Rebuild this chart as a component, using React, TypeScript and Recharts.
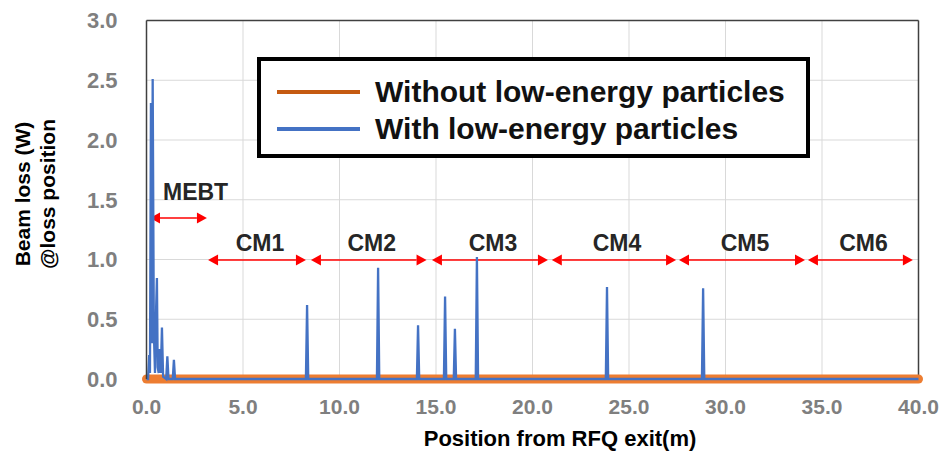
import { LineChart, Line, XAxis, YAxis, CartesianGrid, ReferenceLine } from "recharts";

const FONT = "'Liberation Sans', Arial, sans-serif";

// x ticks (m) and y ticks (W)
const xTicks = [0, 5, 10, 15, 20, 25, 30, 35, 40];
const yTicks = [0, 0.5, 1, 1.5, 2, 2.5, 3];

// without low-energy particles: flat at zero
const withoutPos = [0, 40];
const withoutLoss = [0, 0];

// with low-energy particles: spikes
const withPos = [
  0, 0.08, 0.14, 0.18, 0.23, 0.28, 0.32, 0.38, 0.44, 0.5, 0.54, 0.58, 0.63, 0.68, 0.74, 0.8, 0.86,
  1.02, 1.08, 1.14, 1.36, 1.42, 1.48,
  8.26, 8.32, 8.38, 11.94, 12.0, 12.06, 14.01, 14.07, 14.13,
  15.41, 15.47, 15.53, 15.92, 15.98, 16.04, 17.06, 17.12, 17.18,
  23.8, 23.86, 23.92, 28.78, 28.84, 28.9, 40,
];
const withLoss = [
  0, 0, 0.2, 0.05, 2.31, 0.3, 2.51, 0.4, 0.05, 0.6, 0.845, 0.1, 0.05, 0.25, 0.05, 0.43, 0.02,
  0, 0.19, 0, 0, 0.16, 0,
  0, 0.62, 0, 0, 0.93, 0, 0, 0.45, 0,
  0, 0.69, 0, 0, 0.42, 0, 0, 1.02, 0,
  0, 0.77, 0, 0, 0.76, 0, 0,
];

// section arrows
const sections = ["MEBT", "CM1", "CM2", "CM3", "CM4", "CM5", "CM6"];
const sectionStart = [0.18, 3.19, 8.52, 14.79, 21.0, 27.59, 34.27];
const sectionEnd = [3.13, 8.26, 14.51, 20.8, 27.44, 34.12, 39.71];
const sectionLevel = [1.347, 0.996, 0.996, 0.996, 0.996, 0.996, 0.996];

const withoutData = withoutPos.map((x, i) => ({ x, y: withoutLoss[i] }));
const withData = withPos.map((x, i) => ({ x, y: withLoss[i] }));

function arrowShape(name: string) {
  return (p: any) => {
    const { x1, y1, x2 } = p;
    const h = 10;
    const w = 5.5;
    const isMebt = name === "MEBT";
    return (
      <g>
        <line x1={x1 + h} y1={y1} x2={x2 - h} y2={y1} stroke="#ff0000" strokeWidth={1.5} />
        <polygon points={`${x1},${y1} ${x1 + h},${y1 - w} ${x1 + h},${y1 + w}`} fill="#ff0000" />
        <polygon points={`${x2},${y1} ${x2 - h},${y1 - w} ${x2 - h},${y1 + w}`} fill="#ff0000" />
        <text
          x={isMebt ? x1 + 13 : (x1 + x2) / 2 + 3}
          y={isMebt ? y1 - 26 : y1 - 17}
          textAnchor={isMebt ? "start" : "middle"}
          dominantBaseline="central"
          fontFamily={FONT}
          fontWeight="bold"
          fontSize={23}
          fill="#262626"
        >
          {name}
        </text>
      </g>
    );
  };
}

function LegendBox() {
  const items = [
    { label: "Without low-energy particles", color: "#C55A11" },
    { label: "With low-energy particles", color: "#4472C4" },
  ];
  return (
    <div
      style={{
        position: "absolute",
        left: 257,
        top: 57,
        boxSizing: "border-box",
        width: 553,
        height: 101,
        border: "4px solid #000",
        background: "#fff",
        paddingTop: 12,
        paddingLeft: 16,
        fontFamily: FONT,
      }}
    >
      {items.map((it) => (
        <div key={it.label} style={{ display: "flex", alignItems: "center", height: 37 }}>
          <div style={{ width: 83, height: 4, background: it.color, marginRight: 15 }} />
          <span style={{ fontSize: 30, fontWeight: "bold", color: "#111", lineHeight: "37px" }}>{it.label}</span>
        </div>
      ))}
    </div>
  );
}

export default function App() {
  return (
    <div style={{ position: "absolute", left: 0, top: 0, width: 941, height: 457, background: "#fff" }}>
      <LineChart width={941} height={457} margin={{ top: 20.5, right: 22.5, bottom: 0, left: 0 }}>
        <CartesianGrid stroke="#d9d9d9" strokeWidth={1} />
        <XAxis
          type="number"
          dataKey="x"
          domain={[0, 40]}
          ticks={xTicks}
          height={78}
          tickSize={0}
          tickMargin={20}
          axisLine={false}
          tickFormatter={(v) => v.toFixed(1)}
          tick={{ fill: "#7f7f7f", fontSize: 21, fontWeight: "bold", fontFamily: FONT }}
          label={{
            content: () => (
              <text x={560} y={438} textAnchor="middle" dominantBaseline="central" fontFamily={FONT} fontWeight="bold" fontSize={22} fill="#000">
                Position from RFQ exit(m)
              </text>
            ),
          }}
        />
        <YAxis
          type="number"
          domain={[0, 3]}
          ticks={yTicks}
          width={146.5}
          tickSize={0}
          tickMargin={29}
          axisLine={{ stroke: "#404040", strokeWidth: 1.5 }}
          tickFormatter={(v) => v.toFixed(1)}
          tick={{ fill: "#7f7f7f", fontSize: 22, fontWeight: "bold", fontFamily: FONT }}
          label={{
            content: () => (
              <g fontFamily={FONT} fontWeight="bold" fontSize={21} fill="#000">
                <text transform="translate(22,194) rotate(-90)" textAnchor="middle" dominantBaseline="central">
                  Beam loss (W)
                </text>
                <text transform="translate(47,194) rotate(-90)" textAnchor="middle" dominantBaseline="central">
                  @loss position
                </text>
              </g>
            ),
          }}
        />
        <ReferenceLine y={3} stroke="#404040" strokeWidth={1.5} />
        <ReferenceLine x={40} stroke="#404040" strokeWidth={1.5} />
        {sections.map((s, i) => (
          <ReferenceLine
            key={s}
            segment={[
              { x: sectionStart[i], y: sectionLevel[i] },
              { x: sectionEnd[i], y: sectionLevel[i] },
            ]}
            shape={arrowShape(s)}
          />
        ))}
        <Line
          data={withoutData}
          dataKey="y"
          type="linear"
          stroke="#ED7D31"
          strokeWidth={9}
          strokeLinecap="round"
          dot={false}
          activeDot={false}
          isAnimationActive={false}
          name="Without low-energy particles"
        />
        <Line
          data={withData}
          dataKey="y"
          type="linear"
          stroke="#4472C4"
          strokeWidth={2.3}
          dot={false}
          activeDot={false}
          isAnimationActive={false}
          name="With low-energy particles"
        />
      </LineChart>
      <LegendBox />
    </div>
  );
}
